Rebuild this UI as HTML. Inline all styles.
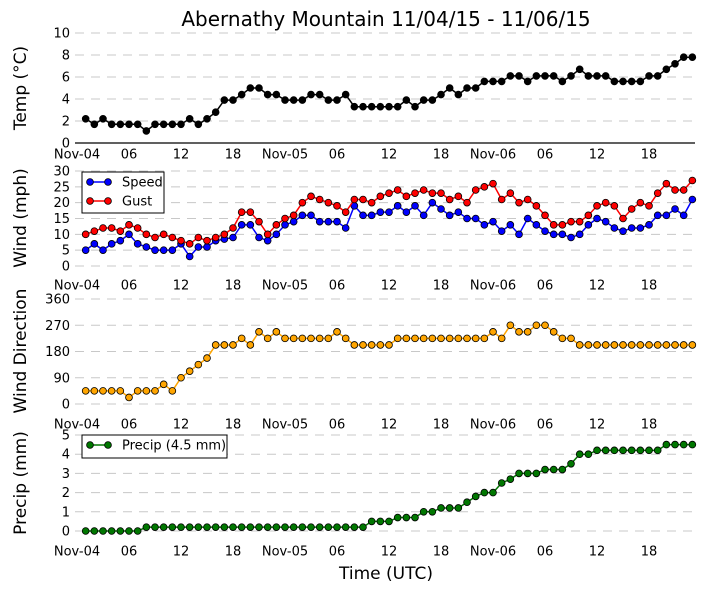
<!DOCTYPE html>
<html><head><meta charset="utf-8"><style>
html,body{margin:0;padding:0;background:#fff}
svg{display:block;font-family:"DejaVu Sans","Liberation Sans",sans-serif}
</style></head><body>
<svg id="chart" width="705" height="593" viewBox="0 0 705 593" xmlns="http://www.w3.org/2000/svg">
<text x="386" y="26" font-size="20" text-anchor="middle">Abernathy Mountain 11/04/15 - 11/06/15</text>
<text x="386" y="579" font-size="17" text-anchor="middle">Time (UTC)</text>
</svg>
<script>
const xTickLabels = ["Nov-04","06","12","18","Nov-05","06","12","18","Nov-06","06","12","18"];
const temp = [2.2,1.7,2.2,1.7,1.7,1.7,1.7,1.1,1.7,1.7,1.7,1.7,2.2,1.7,2.2,2.8,3.9,3.9,4.4,5,5,4.4,4.4,3.9,3.9,3.9,4.4,4.4,3.9,3.9,4.4,3.3,3.3,3.3,3.3,3.3,3.3,3.9,3.3,3.9,3.9,4.4,5,4.4,5,5,5.6,5.6,5.6,6.1,6.1,5.6,6.1,6.1,6.1,5.6,6.1,6.7,6.1,6.1,6.1,5.6,5.6,5.6,5.6,6.1,6.1,6.7,7.2,7.8,7.8];
const speed = [5,7,5,7,8,10,7,6,5,5,5,7,3,6,6,8,8.5,9,13,13,9,8,10,13,14,16,16,14,14,14,12,19,16,16,17,17,19,17,19,16,20,18,16,17,15,15,13,14,11,13,10,15,13,11,10,10,9,10,13,15,14,12,11,12,12,13,16,16,18,16,21];
const gust = [10,11,12,12,11,13,12,10,9,10,9,8,7,9,8,9,10,12,17,17,14,10,13,15,16,20,22,21,20,19,17,21,21,20,22,23,24,22,23,24,23,23,21,22,20,24,25,26,21,23,20,21,19,16,13,13,14,14,16,19,20,19,15,18,20,19,23,26,24,24,27];
const direction = [45,45,45,45,45,22.5,45,45,45,67.5,45,90,112.5,135,157.5,202.5,202.5,202.5,225,202.5,247.5,225,247.5,225,225,225,225,225,225,247.5,225,202.5,202.5,202.5,202.5,202.5,225,225,225,225,225,225,225,225,225,225,225,247.5,225,270,247.5,247.5,270,270,247.5,225,225,202.5,202.5,202.5,202.5,202.5,202.5,202.5,202.5,202.5,202.5,202.5,202.5,202.5,202.5];
const precip = [0,0,0,0,0,0,0,0.2,0.2,0.2,0.2,0.2,0.2,0.2,0.2,0.2,0.2,0.2,0.2,0.2,0.2,0.2,0.2,0.2,0.2,0.2,0.2,0.2,0.2,0.2,0.2,0.2,0.2,0.5,0.5,0.5,0.7,0.7,0.7,1.0,1.0,1.2,1.2,1.2,1.5,1.8,2.0,2.0,2.5,2.7,3.0,3.0,3.0,3.2,3.2,3.2,3.5,4.0,4.0,4.2,4.2,4.2,4.2,4.2,4.2,4.2,4.2,4.5,4.5,4.5,4.5];
const tempTicks = [0,2,4,6,8,10];
const windTicks = [0,5,10,15,20,25,30];
const dirTicks = [0,90,180,270,360];
const precipTicks = [0,1,2,3,4,5];

const svg = document.getElementById('chart');
const NS = 'http://www.w3.org/2000/svg';
const X0 = 77, PX_PER_HR = 8.667, XR = 695, GL = 75;
function xScale(h){ return X0 + h*PX_PER_HR; }
function mk(tag, attrs, parent){
  const e = document.createElementNS(NS, tag);
  for (const k in attrs) e.setAttribute(k, attrs[k]);
  (parent||svg).appendChild(e);
  return e;
}
function panel(name, yMin, yMax, yTop, yBot, ticks, tickLabelY, title, titleY, solidZero){
  const g = mk('g', {});
  
  
  const ys = v => yBot - (v - yMin) / (yMax - yMin) * (yBot - yTop);
  ticks.forEach(t => {
    const y = ys(t);
    const ln = mk('line', {x1: GL, x2: XR, y1: y, y2: y, stroke: (solidZero && t === 0) ? '#000' : '#c8c8c8', 'stroke-width': (solidZero && t === 0) ? 1.3 : 1, 'stroke-dasharray': (solidZero && t === 0) ? 'none' : '9,7'}, g);
    
    
    const tx = mk('text', {x: 70, y: y + 4.5, 'font-size': 13, 'text-anchor': 'end'}, g);
    tx.textContent = t;
    
    
  });
  xTickLabels.forEach((lab, i) => {
    const tx = mk('text', {x: xScale(i*6), y: tickLabelY + 4.5, 'font-size': 13, 'text-anchor': 'middle'}, g);
    tx.textContent = lab;
    
    
  });
  const tt = mk('text', {x: 0, y: 0, 'font-size': 17, 'text-anchor': 'middle', transform: 'translate(26,' + titleY + ') rotate(-90)'}, g);
  tt.textContent = title;
  
  
  return {g, ys};
}
function series(p, name, vals, color, edge){
  const pts = vals.map((v, i) => [xScale(i + 1), p.ys(v)]);
  const pl = mk('polyline', {points: pts.map(q => q.join(',')).join(' '), fill: 'none', stroke: color, 'stroke-width': 1.5}, p.g);
  
  
  pts.forEach(q => {
    const c = mk('circle', {cx: q[0], cy: q[1], r: 3.4, fill: color, stroke: edge, 'stroke-width': 0.8}, p.g);
    
    
  });
}
function legend(p, name, x, y, w, h, entries){
  const lg = mk('g', {}, p.g);
  
  
  mk('rect', {x, y, width: w, height: h, fill: '#fff', stroke: '#000', 'stroke-width': 1}, lg);
  entries.forEach((e, i) => {
    const yy = y + 10 + i * 19;
    mk('line', {x1: x + 8, x2: x + 26, y1: yy, y2: yy, stroke: e[1], 'stroke-width': 1.5}, lg);
    mk('circle', {cx: x + 8, cy: yy, r: 3.4, fill: e[1], stroke: '#000', 'stroke-width': 0.8}, lg);
    mk('circle', {cx: x + 26, cy: yy, r: 3.4, fill: e[1], stroke: '#000', 'stroke-width': 0.8}, lg);
    const t = mk('text', {x: x + 40, y: yy + 4.5, 'font-size': 13}, lg);
    t.textContent = e[0];
    
    
  });
}
const p1 = panel('temp', 0, 10, 33, 143, tempTicks, 154, 'Temp (\u00B0C)', 88, true);
series(p1, 'temp', temp, '#000', '#000');
const p2 = panel('wind', 0, 30, 171, 266, windTicks, 285, 'Wind (mph)', 218, false);
series(p2, 'speed', speed, '#0000ff', '#000');
series(p2, 'gust', gust, '#ff0000', '#000');
legend(p2, 'wind-legend', 82, 172, 82, 41, [['Speed', '#0000ff'], ['Gust', '#ff0000']]);
const p3 = panel('direction', 0, 360, 299, 404, dirTicks, 424, 'Wind Direction', 351, false);
series(p3, 'direction', direction, '#ffa500', '#000');
const p4 = panel('precip', 0, 5, 435, 531, precipTicks, 551, 'Precip (mm)', 483, false);
series(p4, 'precip', precip, '#007700', '#000');
legend(p4, 'precip-legend', 82, 435, 145, 23, [['Precip (4.5 mm)', '#007700']]);
</script>
</body></html>
